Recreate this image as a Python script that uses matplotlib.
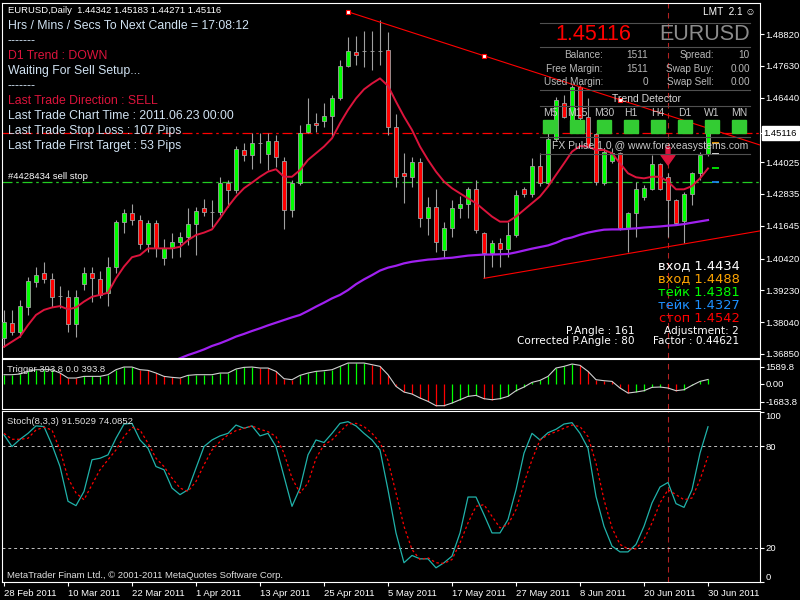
import matplotlib
matplotlib.use("Agg")
import matplotlib.pyplot as plt
import pandas as pd
from matplotlib.lines import Line2D
from matplotlib.patches import Rectangle
from matplotlib.transforms import blended_transform_factory

plt.rcParams['font.family'] = ['Liberation Sans', 'DejaVu Sans']

W, H = 800, 600
WIDE = ['DejaVu Sans']

# ── Data ───────────────────────────────────────────────────────────────────

dates = pd.bdate_range('2011-02-28', '2011-06-30')   # 89 daily bars

opens = [1.3744, 1.3802, 1.3769, 1.3860, 1.3956, 1.3989, 1.3964, 1.3902, 1.3899, 1.3797,
         1.3946, 1.3989, 1.3967, 1.3912, 1.4012, 1.4179, 1.4211, 1.4186, 1.4095, 1.4176,
         1.4043, 1.4080, 1.4103, 1.4121, 1.4170, 1.4230, 1.4216, 1.4216, 1.4326, 1.4298,
         1.4448, 1.4428, 1.4473, 1.4434, 1.4482, 1.4408, 1.4224, 1.4326, 1.4517, 1.4550,
         1.4558, 1.4575, 1.4641, 1.4764, 1.4816, 1.4820, 1.4819, 1.4820, 1.4822, 1.4535,
         1.4361, 1.4348, 1.4404, 1.4192, 1.4236, 1.4074, 1.4155, 1.4230, 1.4246, 1.4301,
         1.4136, 1.4062, 1.4099, 1.4076, 1.4129, 1.4303, 1.4282, 1.4389, 1.4323, 1.4488,
         1.4623, 1.4560, 1.4683, 1.4573, 1.4507, 1.4323, 1.4408, 1.4436, 1.4155, 1.4211,
         1.4271, 1.4302, 1.4396, 1.4348, 1.4261, 1.4184, 1.4283, 1.4363, 1.44342]
highs = [1.3850, 1.3850, 1.3887, 1.3974, 1.4012, 1.4030, 1.3987, 1.3939, 1.3924, 1.3924,
         1.4012, 1.4012, 1.3997, 1.4047, 1.4186, 1.4226, 1.4246, 1.4205, 1.4186, 1.4186,
         1.4114, 1.4136, 1.4143, 1.4230, 1.4234, 1.4264, 1.4261, 1.4348, 1.4336, 1.4463,
         1.4476, 1.4513, 1.4510, 1.4510, 1.4504, 1.4421, 1.4336, 1.4542, 1.4641, 1.4585,
         1.4623, 1.4654, 1.4785, 1.4872, 1.4875, 1.4894, 1.4894, 1.4934, 1.4891, 1.4583,
         1.4436, 1.4423, 1.4417, 1.4271, 1.4301, 1.4180, 1.4261, 1.4276, 1.4311, 1.4336,
         1.4143, 1.4111, 1.4118, 1.4180, 1.4298, 1.4311, 1.4417, 1.4436, 1.4510, 1.4648,
         1.4654, 1.4691, 1.4691, 1.4641, 1.4510, 1.4454, 1.4454, 1.4442, 1.4217, 1.4330,
         1.4317, 1.4429, 1.4398, 1.4361, 1.4264, 1.4292, 1.4367, 1.4442, 1.45183]
lows = [1.3712, 1.3756, 1.3750, 1.3831, 1.3937, 1.3949, 1.3862, 1.3856, 1.3769, 1.3747,
        1.3924, 1.3881, 1.3893, 1.3865, 1.3987, 1.4139, 1.4168, 1.4076, 1.4068, 1.4049,
        1.4018, 1.4043, 1.4047, 1.4093, 1.4055, 1.4201, 1.4161, 1.4205, 1.4236, 1.4286,
        1.4408, 1.4376, 1.4398, 1.4373, 1.4386, 1.4151, 1.4199, 1.4317, 1.4510, 1.4517,
        1.4535, 1.4498, 1.4635, 1.4760, 1.4766, 1.4760, 1.4747, 1.4766, 1.4504, 1.4311,
        1.4249, 1.4311, 1.4161, 1.4130, 1.4068, 1.4043, 1.4124, 1.4192, 1.4192, 1.4136,
        1.3968, 1.4012, 1.4012, 1.4049, 1.4121, 1.4273, 1.4273, 1.4313, 1.4317, 1.4483,
        1.4567, 1.4554, 1.4560, 1.4454, 1.4317, 1.4317, 1.4398, 1.4149, 1.4068, 1.4124,
        1.4261, 1.4298, 1.4298, 1.4124, 1.4167, 1.4099, 1.4242, 1.4336, 1.44271]
closes = [1.3806, 1.3769, 1.3865, 1.3958, 1.3979, 1.3964, 1.3897, 1.3901, 1.3797, 1.3897,
          1.3989, 1.3968, 1.3906, 1.4012, 1.4179, 1.4211, 1.4186, 1.4095, 1.4176, 1.4080,
          1.4080, 1.4103, 1.4121, 1.4170, 1.4221, 1.4216, 1.4217, 1.4326, 1.4298, 1.4451,
          1.4428, 1.4473, 1.4474, 1.4482, 1.4421, 1.4224, 1.4326, 1.4513, 1.4544, 1.4542,
          1.4575, 1.4641, 1.4764, 1.4818, 1.4803, 1.4819, 1.4820, 1.4819, 1.4535, 1.4348,
          1.4352, 1.4404, 1.4192, 1.4236, 1.4105, 1.4155, 1.4230, 1.4246, 1.4301, 1.4149,
          1.4062, 1.4099, 1.4076, 1.4129, 1.4280, 1.4282, 1.4389, 1.4323, 1.4488, 1.4635,
          1.4573, 1.4683, 1.4567, 1.4461, 1.4330, 1.4442, 1.4436, 1.4155, 1.4211, 1.4301,
          1.4305, 1.4396, 1.4301, 1.4261, 1.4174, 1.4283, 1.4363, 1.4429, 1.45116]

ma_fast = [1.3712, 1.3731, 1.3750, 1.3793, 1.3831, 1.3850, 1.3859, 1.3864, 1.3852, 1.3859,
           1.3881, 1.3899, 1.3906, 1.3914, 1.3968, 1.4012, 1.4047, 1.4055, 1.4080, 1.4080,
           1.4080, 1.4080, 1.4086, 1.4111, 1.4130, 1.4139, 1.4151, 1.4192, 1.4236, 1.4274,
           1.4305, 1.4326, 1.4348, 1.4367, 1.4376, 1.4348, 1.4348, 1.4373, 1.4411, 1.4436,
           1.4461, 1.4492, 1.4548, 1.4598, 1.4641, 1.4675, 1.4697, 1.4716, 1.4688, 1.4629,
           1.4573, 1.4523, 1.4461, 1.4411, 1.4367, 1.4330, 1.4305, 1.4286, 1.4267, 1.4249,
           1.4224, 1.4199, 1.4180, 1.4180, 1.4199, 1.4224, 1.4249, 1.4274, 1.4311, 1.4355,
           1.4398, 1.4442, 1.4463, 1.4461, 1.4448, 1.4448, 1.4436, 1.4398, 1.4361, 1.4346,
           1.4342, 1.4348, 1.4348, 1.4330, 1.4301, 1.4301, 1.4313, 1.4342, 1.4379]

ma_slow_first = 20
ma_slow = [1.3644, 1.3656, 1.3669, 1.3681, 1.3691, 1.3702, 1.3715, 1.3725, 1.3737, 1.3750,
           1.3760, 1.3771, 1.3781, 1.3792, 1.3802, 1.3812, 1.3822, 1.3831, 1.3846, 1.3862,
           1.3877, 1.3893, 1.3906, 1.3924, 1.3946, 1.3964, 1.3980, 1.3997, 1.4008, 1.4015,
           1.4024, 1.4030, 1.4034, 1.4038, 1.4040, 1.4043, 1.4045, 1.4049, 1.4053, 1.4055,
           1.4057, 1.4057, 1.4058, 1.4059, 1.4065, 1.4072, 1.4079, 1.4085, 1.4091, 1.4101,
           1.4114, 1.4121, 1.4131, 1.4139, 1.4145, 1.4150, 1.4151, 1.4151, 1.4153, 1.4155,
           1.4158, 1.4160, 1.4162, 1.4165, 1.4167, 1.4171, 1.4176, 1.4181, 1.4186]

trigger = [842, 842, 905, 1154, 1310, 1310, 1310, 998, 530, 530,
           686, 686, 686, 842, 1310, 1560, 1560, 1310, 1248, 998,
           686, 593, 530, 780, 842, 842, 842, 998, 998, 1373,
           1529, 1560, 1466, 1466, 1154, 468, 374, 780, 998, 1154,
           1217, 1310, 1622, 1934, 1934, 1934, 1778, 1622, 842, -250,
           -780, -967, -1342, -1654, -2059, -2059, -1810, -1498, -1186, -1092,
           -1404, -1498, -1404, -1186, -655, -312, 125, 312, 686, 1466,
           1622, 1841, 1716, 1154, 374, 281, 218, -406, -874, -780,
           -655, -343, -312, -406, -655, -562, -156, 218, 393.8]

stoch_main = [86.7, 79.8, 84.1, 87.6, 92.0, 91.6, 80.8, 68.0, 47.5, 44.9,
              53.3, 72.0, 72.9, 74.9, 84.7, 93.1, 93.5, 83.7, 78.8, 68.0,
              66.1, 55.3, 51.4, 54.3, 67.1, 79.8, 83.7, 86.1, 87.6, 92.5,
              90.6, 92.0, 86.1, 87.6, 79.8, 62.2, 44.5, 55.3, 74.9, 83.7,
              82.2, 87.6, 93.5, 94.5, 92.0, 87.6, 83.7, 77.8, 54.3, 28.8,
              11.2, 15.5, 13.5, 13.5, 8.2, 11.2, 15.1, 28.8, 50.0, 50.0,
              39.6, 28.8, 28.8, 36.7, 54.3, 75.9, 87.6, 83.7, 88.0, 90.0,
              93.1, 93.9, 87.6, 78.8, 50.4, 32.7, 21.0, 17.6, 17.6, 22.0,
              32.7, 46.5, 55.9, 58.6, 46.1, 43.9, 54.3, 75.9, 91.5]
stoch_signal = [87.6, 84.1, 84.1, 84.7, 89.6, 91.2, 89.6, 77.8, 61.2, 52.4,
                48.4, 57.3, 66.1, 72.0, 77.8, 85.7, 91.2, 89.6, 81.8, 72.9,
                68.0, 61.2, 55.3, 53.3, 59.2, 69.0, 77.8, 82.7, 86.7, 89.2,
                90.6, 92.0, 90.0, 88.6, 85.7, 75.9, 61.2, 52.4, 58.2, 72.9,
                80.8, 83.7, 88.6, 93.1, 93.5, 91.6, 87.6, 82.2, 71.6, 52.4,
                32.7, 19.0, 13.1, 14.1, 11.2, 10.8, 13.1, 22.9, 34.7, 44.5,
                45.5, 38.6, 31.8, 33.7, 42.5, 58.2, 72.0, 83.7, 86.7, 88.6,
                90.6, 92.5, 91.6, 85.7, 70.0, 48.4, 31.8, 22.0, 19.4, 19.4,
                24.9, 34.7, 46.5, 54.3, 51.4, 48.4, 49.4, 60.2, 74.1]

# trend lines: (bar, price)
upper_bars = [43, 60, 77]
upper_prices = [1.4965, 1.4801, 1.4636]
lower_bars = [60, 88]
lower_prices = [1.3968, 1.4112]

order_price = 1.4327
stop_price = 1.4510
signal_bar = 83
arrow_top, arrow_tip = 1.4459, 1.4392

level_prices = [1.4475, 1.4434, 1.4381, 1.4327]
level_colors = ['#ffa500', '#ffffff', '#00ff00', '#1e90ff']

price_ticks = [1.48820, 1.47630, 1.46440, 1.45116, 1.44025, 1.42835,
               1.41645, 1.40420, 1.39230, 1.38040, 1.36850]
trigger_ticks = [1589.8, 0.0, -1683.8]
trigger_labels = ['1589.8', '0.00', '-1683.8']

timeframes = ['M5', 'M15', 'M30', 'H1', 'H4', 'D1', 'W1', 'MN']

# ── Figure ─────────────────────────────────────────────────────────────────

def fx(x):
    return x / W


def fy(y):
    return 1 - y / H


fig = plt.figure(figsize=(8, 6), dpi=100, facecolor='black')


def make_axes(top, bottom):
    ax = fig.add_axes([fx(2), fy(bottom), fx(760) - fx(2), (bottom - top) / H])
    ax.set_facecolor('black')
    for s in ax.spines.values():
        s.set_color('white')
        s.set_linewidth(0.8)
    ax.set_xlim(-0.25, 94.5)
    ax.yaxis.tick_right()
    ax.tick_params(axis='y', colors='white', labelsize=6.8, length=3,
                   width=0.8, pad=1)
    ax.tick_params(axis='x', bottom=False, labelbottom=False)
    return ax


ax = make_axes(2.7, 357.5)
ax2 = make_axes(359.3, 409)
ax3 = make_axes(411, 581.7)

x = list(range(len(dates)))

# ── Main chart ──
ax.set_ylim(1.36718, 1.49991)
body_col = ['#00ff00' if c >= o else '#ff0000' for o, c in zip(opens, closes)]
ax.vlines(x, lows, highs, color='#a0a0a0', lw=0.8, zorder=2)
ax.bar(x, [abs(c - o) for o, c in zip(opens, closes)],
       bottom=[min(o, c) for o, c in zip(opens, closes)],
       width=0.6, color=body_col, edgecolor='#a0a0a0', linewidth=0.6, zorder=3)

ax.plot(x, ma_fast, color='#dc143c', lw=1.4, zorder=4)
ax.plot(x[ma_slow_first:], ma_slow, color='#a020f0', lw=1.6, zorder=4)

ax.axhline(stop_price, color='#ff0000', lw=0.9, ls=(0, (8, 3, 2, 3)), zorder=1)
ax.axhline(order_price, color='#22cc22', lw=0.9, ls=(0, (8, 3, 2, 3)), zorder=1)

x_end = 94.5
slope = (upper_prices[-1] - upper_prices[0]) / (upper_bars[-1] - upper_bars[0])
ax.plot([upper_bars[0], x_end],
        [upper_prices[0], upper_prices[0] + slope * (x_end - upper_bars[0])],
        color='#ff0000', lw=0.8, zorder=5)
ax.plot(upper_bars, upper_prices, 's', ms=3, mfc='white', mec='#ff0000',
        mew=0.8, zorder=6)
slope = (lower_prices[-1] - lower_prices[0]) / (lower_bars[-1] - lower_bars[0])
ax.plot([lower_bars[0], x_end],
        [lower_prices[0], lower_prices[0] + slope * (x_end - lower_bars[0])],
        color='#ff0000', lw=0.8, zorder=5)

ax.annotate('', xy=(signal_bar, arrow_tip), xytext=(signal_bar, arrow_top),
            arrowprops=dict(facecolor='#dc143c', edgecolor='#dc143c',
                            width=2.8, headwidth=10, headlength=7), zorder=7)

for p, c in zip(level_prices, level_colors):
    ax.hlines(p, 88.45, 89.4, color=c, lw=1.2, zorder=6)

ax.set_yticks(price_ticks)
ax.set_yticklabels(['' if p == closes[-1] else f'{p:.5f}' for p in price_ticks])
ax.annotate(f'{closes[-1]:.5f}', xy=(1, closes[-1]),
            xycoords=blended_transform_factory(ax.transAxes, ax.transData),
            xytext=(2.6, 0), textcoords='offset points', ha='left', va='center',
            fontsize=6.8, color='black', annotation_clip=False,
            bbox=dict(boxstyle='square,pad=0.22', fc='white', ec='white'))

# ── Trigger panel ──
ax2.set_ylim(-2367, 2282)
trig_col = []
for i, v in enumerate(trigger):
    if i == 0 or v > trigger[i - 1]:
        trig_col.append('#00ff00')
    elif v < trigger[i - 1]:
        trig_col.append('#ff0000')
    else:
        trig_col.append(trig_col[-1])
ax2.vlines(x, 0, trigger, colors=trig_col, lw=0.9, zorder=2)
ax2.plot(x, trigger, color='#d0d0d0', lw=0.8, zorder=3)
ax2.set_yticks(trigger_ticks)
ax2.set_yticklabels(trigger_labels)

# ── Stochastic panel ──
ax3.set_ylim(0.35, 100.8)
ax3.axhline(80, color='#c0c0c0', lw=0.7, ls=(0, (3, 3)))
ax3.axhline(20, color='#c0c0c0', lw=0.7, ls=(0, (3, 3)))
ax3.plot(x, stoch_main, color='#20b2aa', lw=0.9, zorder=3)
ax3.plot(x, stoch_signal, color='#ff0000', lw=0.9, ls=(0, (2, 2)), zorder=3)
ax3.set_yticks([100, 80, 20, 0])
ax3.set_yticklabels(['100', '80', '20', '0'])
ylabs = ax3.get_yticklabels()
ylabs[0].set_verticalalignment('top')
ylabs[-1].set_verticalalignment('bottom')

ax3.set_xticks(x[::8])
ax3.set_xticklabels([f'{d.day} {d:%b %Y}' for d in dates[::8]])
ax3.tick_params(axis='x', bottom=True, labelbottom=True, colors='white',
                labelsize=6.8, length=3, width=0.8, pad=2)
for lab in ax3.get_xticklabels():
    lab.set_horizontalalignment('left')

for a in (ax, ax2, ax3):
    a.axvline(signal_bar, color='#b22222', lw=0.8, ls=(0, (5, 4)), zorder=1)

# ── Texts: top left ──
def ftext(px, py, s, **kw):
    kw.setdefault('va', 'center')
    kw.setdefault('color', '#d0e2f2')
    return fig.text(fx(px), fy(py), s, **kw)


LIGHT = '#d0e2f2'
CRIMSON = '#dc143c'
ftext(8, 10.5, 'EURUSD,Daily  1.44342 1.45183 1.44271 1.45116',
      color='white', fontsize=6.8)
left_lines = [
    ('Hrs / Mins / Secs To Next Candle = 17:08:12', LIGHT),
    ('-------', LIGHT),
    ('D1 Trend : DOWN', CRIMSON),
    ('Waiting For Sell Setup...', LIGHT),
    ('-------', LIGHT),
    ('Last Trade Direction : SELL', CRIMSON),
    ('Last Trade Chart Time : 2011.06.23 00:00', LIGHT),
    ('Last Trade Stop Loss : 107 Pips', LIGHT),
    ('Last Trade First Target : 53 Pips', LIGHT),
]
for k, (s, c) in enumerate(left_lines):
    ftext(8, 25.7 + 15 * k, s, color=c, fontsize=8.8)
ftext(8, 176.5, '#4428434 sell stop', color='white', fontsize=6.8)

ftext(7, 370, 'Trigger 393.8 0.0 393.8', color='#e0e0e0', fontsize=6.8)
ftext(7, 421.5, 'Stoch(8,3,3) 91.5029 74.0852', color='#e0e0e0', fontsize=6.8)
ftext(7, 575, 'MetaTrader Finam Ltd., \u00a9 2001-2011 MetaQuotes Software Corp.',
      color='#e0e0e0', fontsize=6.8)

# ── Info panel: top right ──
ftext(756, 12, 'LMT  2.1 \u263a', color='white', fontsize=7.2, ha='right')
for yy in (23.3, 46.7, 90, 106, 136.7, 154):
    fig.add_artist(Line2D([fx(540), fx(750)], [fy(yy), fy(yy)],
                          color='#505050', lw=0.8))
ftext(555, 34, '1.45116', color='#ff0000', fontsize=15.5, ha='left')
ftext(750, 34, 'EURUSD', color='#8c8c8c', fontsize=15.5, ha='right')
GREY = '#b8b8b8'
rows = [('Balance:', '1511', 'Spread:', '10'),
        ('Free Margin:', '1511', 'Swap Buy:', '0.00'),
        ('Used Margin:', '0', 'Swap Sell:', '0.00')]
for k, row in enumerate(rows):
    yy = 55.3 + 13.2 * k
    for s, xx in zip(row, (603, 648, 714, 750)):
        ftext(xx, yy, s, color=GREY, fontsize=7.2, ha='right')
ftext(647, 98.7, 'Trend Detector', color='#d8d8d8', fontsize=7.5, ha='center')
for k, tf in enumerate(timeframes):
    cx = 550 + 27 * k
    ftext(cx, 113.3, tf, color='#c8c8c8', fontsize=7.5, ha='center')
    fig.add_artist(Rectangle((fx(cx - 7), fy(133.3)), 14 / W, 13.3 / H,
                             transform=fig.transFigure, color='#33cc33',
                             zorder=4))
ftext(650, 145.7, 'FX Pulse 1.0 @ www.forexeasystems.com', color='#c8c8c8',
      fontsize=7.5, ha='center')

# ── Levels block: bottom right ──
levels_text = [('вход 1.4434', '#ffffff'), ('вход 1.4488', '#ffa500'),
               ('тейк 1.4381', '#00ff00'), ('тейк 1.4327', '#1e90ff'),
               ('стоп 1.4542', '#ff0000')]
for k, (s, c) in enumerate(levels_text):
    ftext(740, 266 + 13.1 * k, s, color=c, fontsize=9.4, ha='right', family=WIDE)
ftext(635, 331, 'P.Angle : 161', color='white', fontsize=7.6, ha='right', family=WIDE)
ftext(739, 331, 'Adjustment: 2', color='white', fontsize=7.6, ha='right', family=WIDE)
ftext(635, 341.5, 'Corrected P.Angle : 80', color='white', fontsize=7.6, ha='right', family=WIDE)
ftext(739, 341.5, 'Factor : 0.44621', color='white', fontsize=7.6, ha='right', family=WIDE)

fig.savefig('out.png', dpi=100, facecolor='black')
